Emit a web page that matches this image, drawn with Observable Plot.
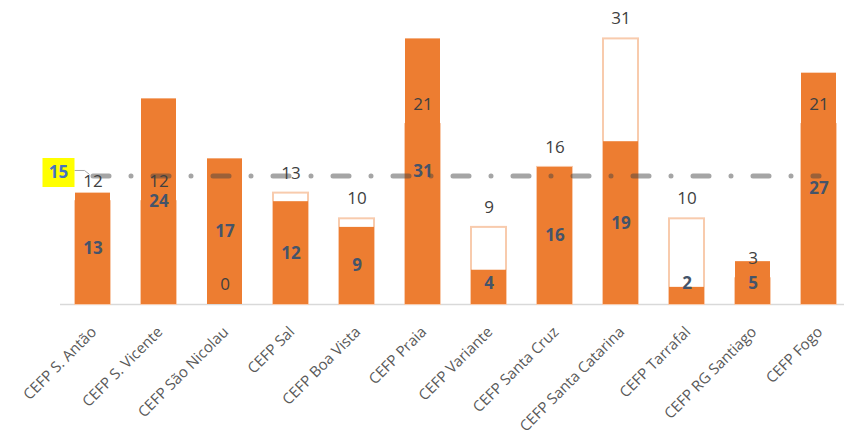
<!DOCTYPE html>
<html>
<head>
<meta charset="utf-8">
<script src="https://cdn.jsdelivr.net/npm/d3@7"></script>
<script src="https://cdn.jsdelivr.net/npm/@observablehq/plot@0.6"></script>
<style>
  html, body { margin: 0; padding: 0; background: #fff; }
  #chart svg { display: block; }
</style>
</head>
<body>
<div id="chart"></div>
<script>
const categories = ["CEFP S. Antão", "CEFP S. Vicente", "CEFP São Nicolau", "CEFP Sal", "CEFP Boa Vista", "CEFP Praia", "CEFP Variante", "CEFP Santa Cruz", "CEFP Santa Catarina", "CEFP Tarrafal", "CEFP RG Santiago", "CEFP Fogo"];
const filledValues = [13, 24, 17, 12, 9, 31, 4, 16, 19, 2, 5, 27];
const outlineValues = [12, 12, 0, 13, 10, 21, 9, 16, 31, 10, 3, 21];
const target = 15;

const rows = categories.map((c, i) => ({c, a: filledValues[i], b: outlineValues[i]}));
const targetRows = categories.map(c => ({c, v: target}));

const boxSymbol = { draw(ctx) { ctx.rect(-16, -14.5, 32, 29); } };
const leaderSymbol = { draw(ctx) { ctx.moveTo(-18.5, -1); ctx.lineTo(-8.5, -1); ctx.lineTo(-3.5, 3); } };

const chart = Plot.plot({
  width: 844,
  height: 435,
  marginLeft: 60,
  marginRight: 0,
  marginTop: 38,
  marginBottom: 131,
  style: { fontFamily: "'Open Sans', sans-serif", background: "#fff" },
  x: { type: "band", domain: categories, range: [59.5, 851.5], paddingInner: 0.47, paddingOuter: 0.235, axis: null },
  y: { domain: [0, 31], range: [304, 38.4], axis: null },
  marks: [
    Plot.ruleY([0], { stroke: "#D9D9D9", strokeWidth: 1.5 }),
    Plot.barY(rows, { x: "c", y: "b", fill: "#fff", stroke: "#F8CBAD", strokeWidth: 2 }),
    Plot.barY(rows, { x: "c", y: "a", fill: "#ED7D31" }),
    Plot.lineY(targetRows, { x: "c", y: "v", stroke: "rgba(64,64,64,0.47)", strokeWidth: 5, strokeLinecap: "round", strokeDasharray: "16,22,0,22" }),
    Plot.dot([targetRows[0]], { x: "c", y: "v", symbol: leaderSymbol, r: 5, fill: "none", stroke: "#A6A6A6", strokeWidth: 1, dx: 0, dy: -4.5 }),
    Plot.dot([targetRows[0]], { x: "c", y: "v", symbol: boxSymbol, r: 5, fill: "#FFFF00", stroke: "none", dx: -34.5, dy: -3.5 }),
    Plot.text([targetRows[0]], { x: "c", y: "v", text: d => String(d.v), dx: -34.5, dy: -3.5, fill: "#4472C4", fontWeight: "bold", fontSize: 17 }),
    Plot.text(rows, { x: "c", y: "b", text: d => String(d.b), dy: -20, fill: "#404040", fontSize: 17 }),
    Plot.text(rows, { x: "c", y: d => Math.max(d.a / 2, 2.45), text: d => String(d.a), fill: "#44546A", fontWeight: "bold", fontSize: 17 }),
    Plot.text(categories, { x: d => d, y: () => 0, text: d => d, rotate: -45, textAnchor: "end", lineAnchor: "middle", dx: 1, dy: 25, fill: "#595959", fontSize: 15 })
  ]
});
document.getElementById("chart").appendChild(chart);
</script>
</body>
</html>
